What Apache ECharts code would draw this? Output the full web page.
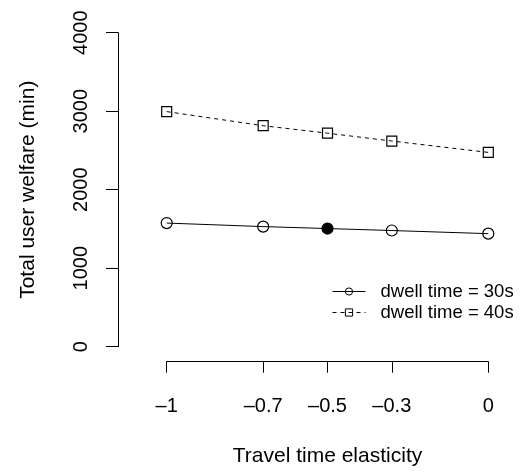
<!DOCTYPE html>
<html>
<head>
<meta charset="utf-8">
<script src="https://cdn.jsdelivr.net/npm/echarts@6/dist/echarts.min.js"></script>
<style>html,body{margin:0;padding:0;background:#fff;}#c{width:520px;height:473px;}</style>
</head>
<body>
<div id="c"></div>
<script>
var elasticity = [-1, -0.7, -0.5, -0.3, 0];
var xTicks = [-1, -0.7, -0.5, -0.3, 0];
var welfare30 = [1575, 1530, 1505, 1480, 1440];
var welfare40 = [2995, 2815, 2720, 2620, 2475];
var highlightIndex = 2;

var FONT = 'Liberation Sans';
var chart = echarts.init(document.getElementById('c'));

function pairs(vals, filledIdx) {
  return vals.map(function (v, i) {
    var p = { value: [elasticity[i], v] };
    if (i === filledIdx) p.itemStyle = { color: '#000', borderColor: '#000' };
    return p;
  });
}

function fmtX(v) {
  var r = Math.round(v * 10) / 10;
  if (r === 0) return '0';
  return (r < 0 ? '\u2013' : '') + String(Math.abs(r));
}

chart.setOption({
  animation: false,
  backgroundColor: '#fff',
  grid: { left: 166.7, top: 32.7, width: 321.6, height: 314, containLabel: false },
  xAxis: {
    type: 'value', min: -1, max: 0, offset: 15,
    name: 'Travel time elasticity', nameLocation: 'middle', nameGap: 84,
    nameTextStyle: { fontFamily: FONT, fontSize: 21, color: '#000' },
    axisLine: { show: true, onZero: false, lineStyle: { color: '#000', width: 1 } },
    axisTick: { show: true, length: 11, customValues: xTicks, lineStyle: { color: '#000' } },
    axisLabel: { customValues: xTicks, formatter: fmtX, margin: 35, fontFamily: FONT, fontSize: 20, color: '#000' },
    splitLine: { show: false }
  },
  yAxis: {
    type: 'value', min: 0, max: 4000, interval: 1000, offset: 48.7,
    name: 'Total user welfare (min)', nameLocation: 'middle', nameGap: 79, nameRotate: 90,
    nameTextStyle: { fontFamily: FONT, fontSize: 21, color: '#000' },
    axisLine: { show: true, onZero: false, lineStyle: { color: '#000', width: 1 } },
    axisTick: { show: true, length: 12, lineStyle: { color: '#000' } },
    axisLabel: { rotate: 90, margin: 27, fontFamily: FONT, fontSize: 20, color: '#000',
      formatter: function (v) { return String(v); } },
    splitLine: { show: false }
  },
  legend: {
    orient: 'vertical', left: 327, top: 277, itemWidth: 33, itemHeight: 9, itemGap: 2,
    lineStyle: { width: 1 },
    itemStyle: { borderWidth: 1 },
    textStyle: { fontFamily: FONT, fontSize: 18.5, color: '#000', padding: [0, 0, 0, 10] },
    data: ['dwell time = 30s', 'dwell time = 40s']
  },
  series: [
    {
      name: 'dwell time = 30s', type: 'line', data: pairs(welfare30, highlightIndex),
      symbol: 'circle', symbolSize: 11, showSymbol: true,
      lineStyle: { color: '#000', width: 1 },
      itemStyle: { color: 'rgba(255,255,255,0)', borderColor: '#000', borderWidth: 1.2 }
    },
    {
      name: 'dwell time = 40s', type: 'line', data: pairs(welfare40, -1),
      symbol: 'rect', symbolSize: 10, showSymbol: true,
      lineStyle: { color: '#000', width: 1, type: [4, 4] },
      itemStyle: { color: 'rgba(255,255,255,0)', borderColor: '#000', borderWidth: 1.2 }
    }
  ]
});
</script>
</body>
</html>
